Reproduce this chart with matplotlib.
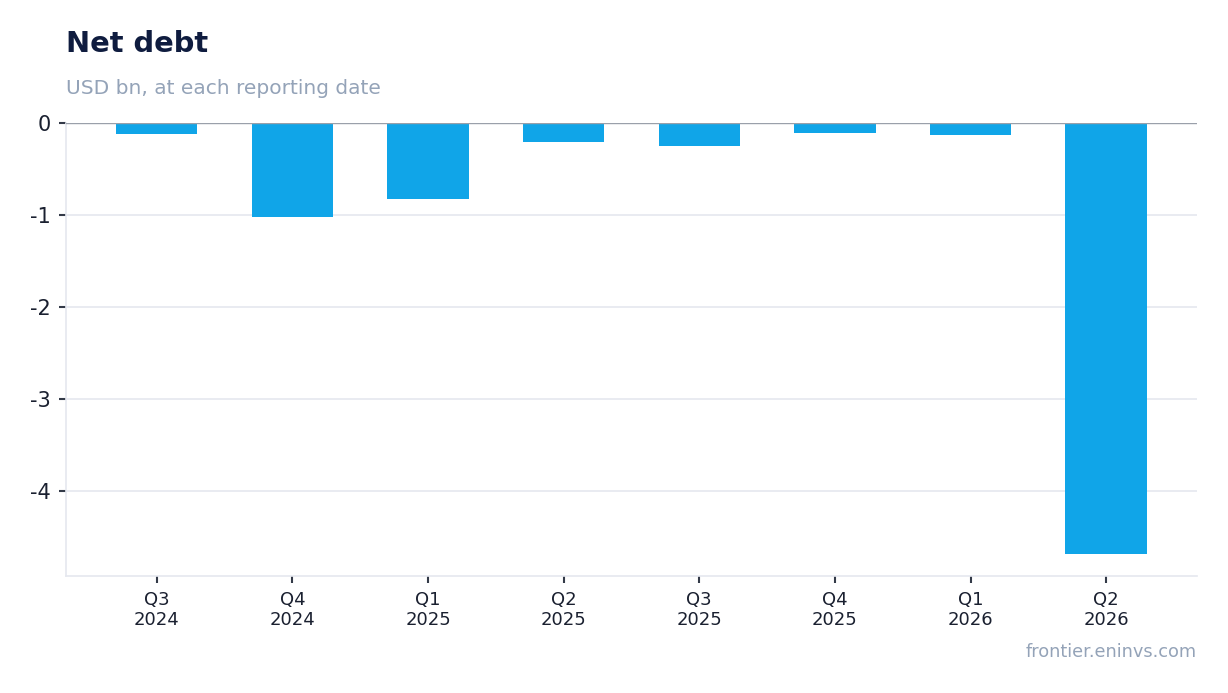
import matplotlib
matplotlib.use("Agg")
from matplotlib import pyplot as plt

# quarters and net debt values (USD bn)
quarters = ['Q3\n2024', 'Q4\n2024', 'Q1\n2025', 'Q2\n2025', 'Q3\n2025', 'Q4\n2025', 'Q1\n2026', 'Q2\n2026']
net_debt = [-0.12, -1.02, -0.82, -0.21, -0.25, -0.11, -0.13, -4.68]
yticks = [0, -1, -2, -3, -4]

fig = plt.figure(figsize=(12.28, 6.93), dpi=100)
ax = fig.add_axes([0.0537, 0.1688, 0.9211, 0.6537])

x = list(range(len(quarters)))
ax.bar(x, net_debt, width=0.6, color='#10a5e8', zorder=3)
ax.axhline(0, color='#9aa0aa', lw=1, zorder=4)

ax.set_xlim(-0.67, 7.67)
ax.set_ylim(-4.92, 0)
ax.set_yticks(yticks)
ax.set_yticklabels([str(v) if v == 0 else '-' + str(-v) for v in yticks])
ax.set_xticks(x)
ax.set_xticklabels(quarters)
ax.grid(axis='y', color='#e5e8ef', lw=1.2, zorder=0)

for s in ['top', 'right']:
    ax.spines[s].set_visible(False)
for s in ['left', 'bottom']:
    ax.spines[s].set_color('#e5e8ef')
    ax.spines[s].set_linewidth(1.2)

ax.tick_params(axis='y', colors='#333a48', labelcolor='#1a2030', labelsize=15, length=5, width=1.5, pad=6)
ax.tick_params(axis='x', colors='#333a48', labelcolor='#1a2030', labelsize=13, length=5, width=1.5, pad=6)
for lab in ax.get_xticklabels():
    lab.set_linespacing(1.1)

fig.text(0.0537, 0.936, 'Net debt', fontsize=20.8, fontweight='bold', color='#0f1c3f', va='center')
fig.text(0.0537, 0.873, 'USD bn, at each reporting date', fontsize=14.5, color='#94a3b8', va='center')
fig.text(0.9748, 0.059, 'frontier.eninvs.com', fontsize=12.8, color='#94a3b8', ha='right', va='center')

fig.savefig('out.png', dpi=100)
